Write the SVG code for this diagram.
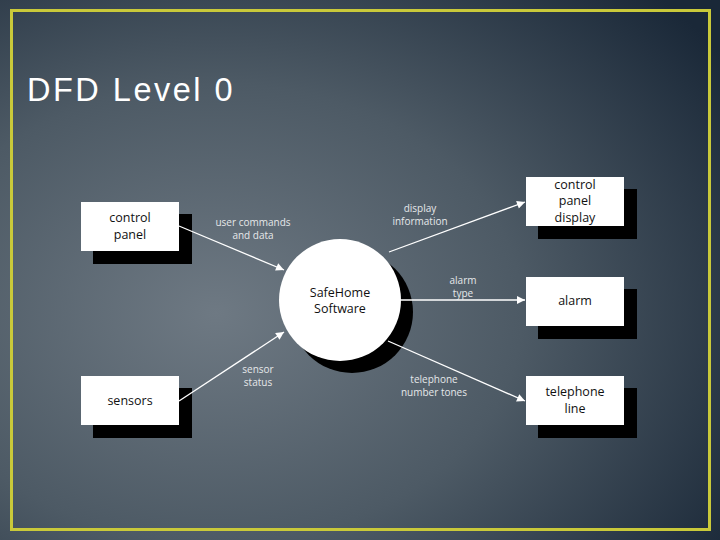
<svg xmlns="http://www.w3.org/2000/svg" width="720" height="540" viewBox="0 0 720 540">
<defs>
<radialGradient id="bg" cx="0.3" cy="0.58" r="0.85">
<stop offset="0" stop-color="#6e7983"/>
<stop offset="0.5" stop-color="#4d5a65"/>
<stop offset="1" stop-color="#1a2838"/>
</radialGradient>
<marker id="ah" viewBox="0 0 10 10" refX="10" refY="5" markerWidth="10" markerHeight="8" markerUnits="userSpaceOnUse" orient="auto">
<path d="M0,0 L10,5 L0,10 z" fill="#ffffff"/>
</marker>
<style>
.box{fill:#ffffff}
.sh{fill:#000000}
.nt{font-family:"Open Sans","DejaVu Sans",sans-serif;font-size:12.5px;fill:#111;text-anchor:middle}
.lb{font-family:"Open Sans","DejaVu Sans",sans-serif;font-size:10px;fill:#e6e8ea;text-anchor:middle}
.fl{stroke:#ffffff;stroke-width:1.3;fill:none;marker-end:url(#ah)}
</style>
</defs>
<rect x="0" y="0" width="720" height="540" fill="url(#bg)"/>
<rect x="11.5" y="10.5" width="698" height="519" fill="none" stroke="#c9c93a" stroke-width="3"/>
<text x="27" y="101" font-family="'Liberation Sans',Arial,sans-serif" font-size="32.5" fill="#ffffff" letter-spacing="2.5">DFD Level 0</text>
<g id="control-panel">
<rect class="sh" x="93" y="214" width="99" height="50"/>
<rect class="box" x="81" y="202" width="98" height="49"/>
<text class="nt" x="130" y="222">control</text>
<text class="nt" x="130" y="239">panel</text>
</g>
<g id="sensors">
<rect class="sh" x="93" y="388" width="99" height="50"/>
<rect class="box" x="81" y="376" width="98" height="49"/>
<text class="nt" x="130" y="405">sensors</text>
</g>
<g id="safehome">
<circle cx="352" cy="312" r="61" fill="#000"/>
<circle cx="340" cy="300" r="61" fill="#fff"/>
<text class="nt" x="340" y="297">SafeHome</text>
<text class="nt" x="340" y="313">Software</text>
</g>
<g id="control-panel-display">
<rect class="sh" x="538" y="189" width="99" height="50"/>
<rect class="box" x="526" y="177" width="98" height="49"/>
<text class="nt" x="575" y="189">control</text>
<text class="nt" x="575" y="205">panel</text>
<text class="nt" x="575" y="222">display</text>
</g>
<g id="alarm">
<rect class="sh" x="538" y="289" width="99" height="50"/>
<rect class="box" x="526" y="277" width="98" height="49"/>
<text class="nt" x="575" y="305">alarm</text>
</g>
<g id="telephone-line">
<rect class="sh" x="538" y="388" width="99" height="50"/>
<rect class="box" x="526" y="376" width="98" height="49"/>
<text class="nt" x="575" y="396">telephone</text>
<text class="nt" x="575" y="413">line</text>
</g>
<g id="connectors">
<line class="fl" x1="179" y1="226" x2="284" y2="270"/>
<line class="fl" x1="179" y1="401" x2="284" y2="332"/>
<line class="fl" x1="389" y1="252" x2="525" y2="202"/>
<line class="fl" x1="401" y1="300" x2="525" y2="300"/>
<line class="fl" x1="388" y1="341" x2="525" y2="401"/>
<text class="lb" x="253" y="226">user commands</text>
<text class="lb" x="253" y="239">and data</text>
<text class="lb" x="420" y="212">display</text>
<text class="lb" x="420" y="225">information</text>
<text class="lb" x="463" y="284">alarm</text>
<text class="lb" x="463" y="297">type</text>
<text class="lb" x="258" y="373">sensor</text>
<text class="lb" x="258" y="386">status</text>
<text class="lb" x="434" y="383">telephone</text>
<text class="lb" x="434" y="396">number tones</text>
</g>
</svg>
